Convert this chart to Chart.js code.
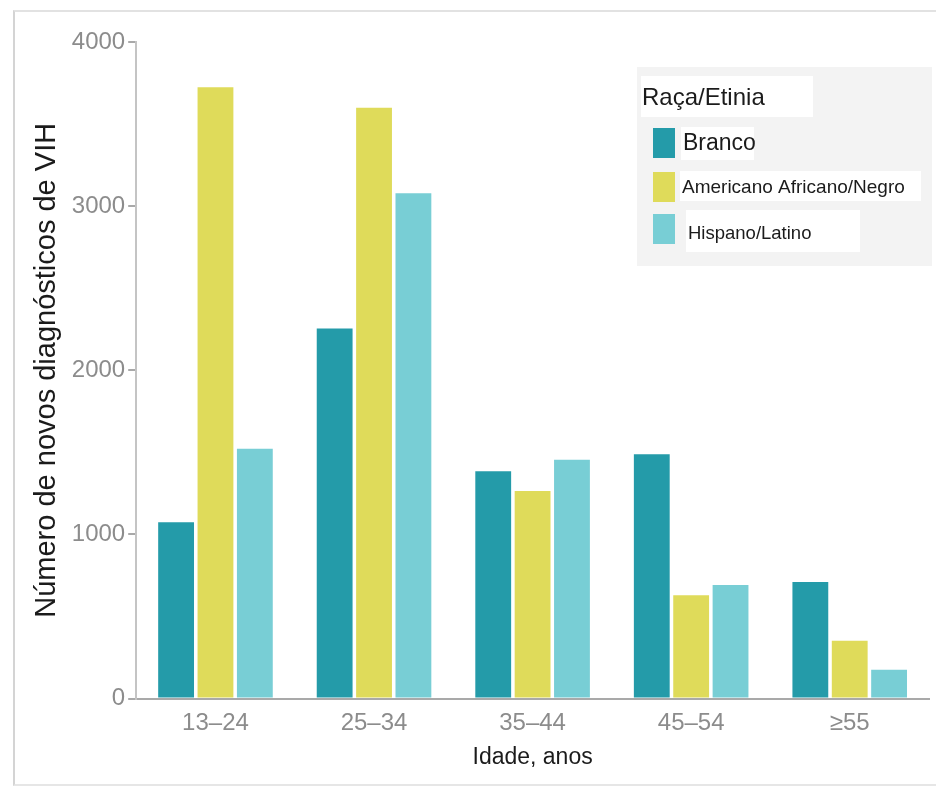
<!DOCTYPE html>
<html lang="pt">
<head>
<meta charset="utf-8">
<title>Novos diagnósticos de VIH por idade e raça/etnia</title>
<script src="https://cdn.jsdelivr.net/npm/chart.js@4.4.1/dist/chart.umd.min.js"></script>
<style>
    html, body { margin: 0; padding: 0; background: #fff; }
    #wrap { position: relative; width: 936px; height: 789px; overflow: hidden; }
    #frame {
        position: absolute; left: 13px; top: 10px; width: 960px; height: 776px;
        border-left: 2px solid #d4d4d4; border-top: 2px solid #e2e2e2; border-bottom: 2px solid #e6e6e6;
        box-sizing: border-box; pointer-events: none;
    }
    canvas { position: absolute; left: 0; top: 0; }
</style>
</head>
<body>
<div id="wrap">
    <div id="frame"></div>
    <canvas id="hivChart" width="936" height="789"></canvas>
</div>
<script>
// ==========================================
// DATA
// ==========================================
const ageGroups = ['13–24', '25–34', '35–44', '45–54', '≥55'];
const seriesNames = ['Branco', 'Americano Africano/Negro', 'Hispano/Latino'];
const branco = [1075, 2255, 1385, 1488, 710];
const afroAmericano = [3725, 3600, 1265, 630, 352];
const hispanoLatino = [1522, 3078, 1455, 692, 175];
const yTicks = [0, 1000, 2000, 3000, 4000];

const seriesColors = ['#249ba9', '#dfdb5a', '#78ced5'];
const legendTitle = 'Raça/Etinia';

// ==========================================
// LEGEND (drawn inside the plot, top right)
// ==========================================
const boxLegend = {
    id: 'boxLegend',
    afterDraw(chart) {
        const { ctx, chartArea } = chart;
        const x0 = chartArea.right - 292;
        const y0 = chartArea.top + 25;

        ctx.save();
        ctx.fillStyle = '#f3f3f3';
        ctx.fillRect(x0, y0, 295, 199);

        // title on its white patch
        ctx.fillStyle = '#ffffff';
        ctx.fillRect(x0 + 4, y0 + 9, 172, 41);
        ctx.fillStyle = '#1b1b1b';
        ctx.textBaseline = 'middle';
        ctx.font = '24px "Liberation Sans", Arial, sans-serif';
        ctx.fillText(legendTitle, x0 + 5, y0 + 31);

        // one row per dataset
        const rows = [
            { y: y0 + 61, patch: [44, 73, 33], tx: 46, font: '23px', ty: 16 },
            { y: y0 + 105, patch: [43, 241, 30], tx: 45, font: '19px', ty: 16 },
            { y: y0 + 147, patch: [49, 174, 42], tx: 51, font: '18.5px', ty: 20 }
        ];
        chart.data.datasets.forEach((ds, i) => {
            const r = rows[i];
            ctx.fillStyle = '#ffffff';
            ctx.fillRect(x0 + r.patch[0], r.y - (i === 2 ? 4 : 1), r.patch[1], r.patch[2]);
            ctx.fillStyle = ds.backgroundColor;
            ctx.fillRect(x0 + 16, r.y, 22, 30);
            ctx.fillStyle = '#1b1b1b';
            ctx.font = r.font + ' "Liberation Sans", Arial, sans-serif';
            ctx.fillText(ds.label, x0 + r.tx, r.y + r.ty);
        });
        ctx.restore();
    }
};

// ==========================================
// CHART
// ==========================================
const values = [branco, afroAmericano, hispanoLatino];
const ctx = document.getElementById('hivChart').getContext('2d');

new Chart(ctx, {
    type: 'bar',
    data: {
        labels: ageGroups,
        datasets: seriesNames.map((name, i) => ({
            label: name,
            data: values[i],
            backgroundColor: seriesColors[i],
            borderWidth: 0,
            barPercentage: 0.91,
            categoryPercentage: 0.745
        }))
    },
    options: {
        responsive: false,
        animation: false,
        devicePixelRatio: 1,
        layout: { padding: { top: 42, right: 7, bottom: 18, left: 30 } },
        plugins: {
            legend: { display: false },
            tooltip: { enabled: false }
        },
        scales: {
            x: {
                grid: { display: false },
                border: { color: '#a9a9a9', width: 2 },
                ticks: {
                    color: '#8c8c8c',
                    padding: 2,
                    font: { family: '"Liberation Sans", Arial, sans-serif', size: 24 }
                },
                title: {
                    display: true,
                    text: 'Idade, anos',
                    color: '#1b1b1b',
                    padding: { top: 4, bottom: 0 },
                    font: { family: '"Liberation Sans", Arial, sans-serif', size: 23 }
                }
            },
            y: {
                min: 0,
                max: 4000,
                afterBuildTicks: axis => { axis.ticks = yTicks.map(v => ({ value: v })); },
                grid: { drawOnChartArea: false, drawTicks: true, tickLength: 8, color: '#a9a9a9', lineWidth: 2 },
                border: { color: '#c4c4c4', width: 2 },
                ticks: {
                    color: '#8c8c8c',
                    padding: 3,
                    callback: v => String(v),
                    font: { family: '"Liberation Sans", Arial, sans-serif', size: 24 }
                },
                title: {
                    display: true,
                    text: 'Número de novos diagnósticos de VIH',
                    color: '#1b1b1b',
                    padding: { top: 0, bottom: 4 },
                    font: { family: '"Liberation Sans", Arial, sans-serif', size: 29 }
                }
            }
        }
    },
    plugins: [boxLegend]
});
</script>
</body>
</html>
